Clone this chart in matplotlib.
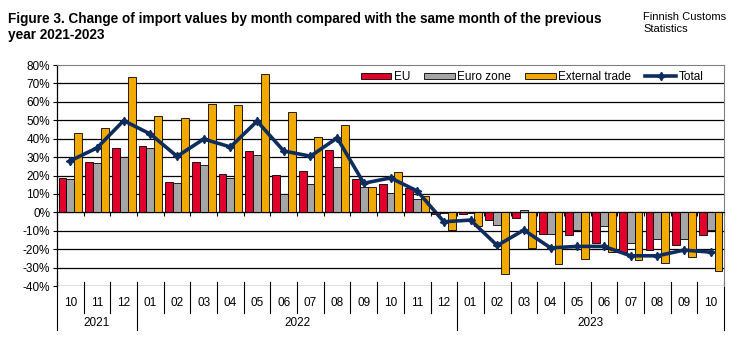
import numpy as np
import matplotlib
matplotlib.use("Agg")
import matplotlib.pyplot as plt
import matplotlib.transforms as mtransforms
from matplotlib.ticker import FuncFormatter, MultipleLocator

plt.rcParams["font.family"] = ["Liberation Sans", "DejaVu Sans"]

months = ["10", "11", "12", "01", "02", "03", "04", "05", "06", "07", "08", "09",
          "10", "11", "12", "01", "02", "03", "04", "05", "06", "07", "08", "09", "10"]
years = ["2021", "2022", "2023"]
year_counts = [3, 12, 10]

eu = [18.5, 27.3, 35.0, 36.0, 16.4, 27.3, 20.7, 33.3, 20.2, 22.4, 33.8, 18.0, 15.3, 13.1,
      -1.1, -1.1, -4.4, -2.9, -11.8, -12.5, -16.4, -21.3, -20.2, -18.0, -12.5]
euro_zone = [18.0, 26.7, 30.0, 35.0, 15.8, 25.6, 18.5, 31.0, 10.0, 15.3, 24.5, 13.6, 10.4, 7.1,
             -0.2, -0.5, -7.1, 1.1, -11.8, -9.8, -7.6, -16.4, -14.7, -14.7, -9.8]
external = [43.0, 45.8, 73.6, 52.4, 51.3, 58.9, 58.4, 75.3, 54.5, 40.9, 47.5, 13.6, 21.8, 8.7,
            -9.6, -7.3, -33.5, -19.1, -27.8, -25.3, -21.8, -25.8, -27.3, -24.5, -32.0]
total = [28.0, 35.0, 49.8, 42.5, 30.4, 39.8, 35.5, 49.5, 33.3, 30.5, 40.4, 15.8, 18.7, 11.6,
         -5.1, -4.2, -18.0, -9.6, -19.3, -18.5, -18.5, -23.6, -23.6, -20.5, -21.6]

red = "#E2002B"
grey = "#A6A6A6"
orange = "#F2A900"
navy = "#0E2D5E"

fig = plt.figure(figsize=(7.56, 3.4), dpi=100)
ax = fig.add_axes([0.0754, 0.1588, 0.8823, 0.65])

x = np.arange(len(months))
w = 0.295
b1 = ax.bar(x - w, eu, w, color=red, edgecolor="black", linewidth=0.6, label="EU", zorder=3)
b2 = ax.bar(x, euro_zone, w, color=grey, edgecolor="black", linewidth=0.6, label="Euro zone", zorder=3)
b3 = ax.bar(x + w, external, w, color=orange, edgecolor="black", linewidth=0.6,
            label="External trade", zorder=3)
l1, = ax.plot(x, total, color=navy, linewidth=2.6, marker=(4, 1, 0), markersize=6,
              label="Total", zorder=4)

ax.set_xlim(-0.5, len(months) - 0.5)
ax.set_ylim(-40, 80)
ax.yaxis.set_major_locator(MultipleLocator(10))
ax.yaxis.set_major_formatter(FuncFormatter(lambda v, p: f"{v:.0f}%"))
ax.tick_params(axis="y", labelsize=8.5, length=3, width=0.8, pad=2)
for yv in range(-40, 80, 10):
    ax.axhline(yv, color="black", linewidth=0.9, zorder=1)

# category axis sits at zero
ax.spines["bottom"].set_position(("data", 0))
ax.spines["bottom"].set_zorder(5)
ax.set_xticks(np.arange(-0.5, len(months), 1))
ax.set_xticklabels([])
ax.tick_params(axis="x", direction="out", length=3, width=0.8)
ax.spines["top"].set_color("#808080")
ax.spines["right"].set_color("#808080")
ax.spines["left"].set_linewidth(0.9)

# multi-level labels below the plot
trans = mtransforms.blended_transform_factory(ax.transData, ax.transAxes)
for i, m in enumerate(months):
    ax.text(i, -0.077, m, transform=trans, ha="center", va="center", fontsize=8.5)
bounds = [-0.5]
for c in year_counts:
    bounds.append(bounds[-1] + c)
for i in range(len(months) + 1):
    bx = i - 0.5
    y_end = -0.2 if bx in bounds else -0.122
    ax.plot([bx, bx], [0.02, y_end], transform=trans, color="black", linewidth=0.8,
            clip_on=False)
for yr, a, b in zip(years, bounds[:-1], bounds[1:]):
    ax.text((a + b) / 2, -0.167, yr, transform=trans, ha="center", va="center", fontsize=8.5)

ax.legend([b1, b2, b3, l1], ["EU", "Euro zone", "External trade", "Total"],
          loc="upper right", bbox_to_anchor=(0.985, 1.02), ncol=4, frameon=False, fontsize=8.5,
          handlelength=2.6, handleheight=0.5, columnspacing=1.2, handletextpad=0.2)

fig.text(0.011, 0.965, "Figure 3. Change of import values by month compared with the same month of the previous\nyear 2021-2023",
         fontsize=9.8, fontweight="bold", ha="left", va="top", linespacing=1.15)
fig.text(0.851, 0.965, "Finnish Customs\nStatistics", fontsize=8, ha="left", va="top")

fig.savefig("out.png", dpi=100)
